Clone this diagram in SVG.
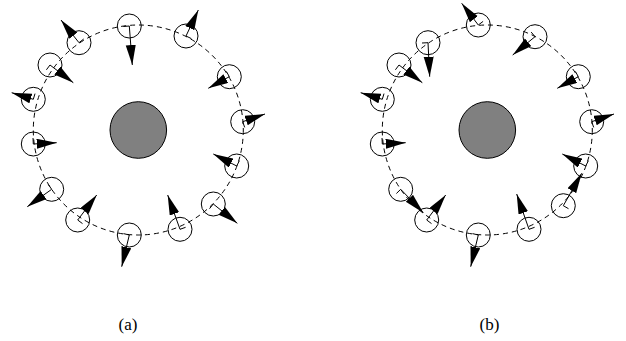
<svg xmlns="http://www.w3.org/2000/svg" width="626" height="341" viewBox="0 0 626 341">
<style>
.ring{fill:none;stroke:#000;stroke-width:1;stroke-dasharray:5,4}
.body{fill:#808080;stroke:#000;stroke-width:1}
.n circle{fill:none;stroke:#000;stroke-width:1}
.n line{stroke:#000;stroke-width:1}
.v{marker-end:url(#ah)}
.lbl{font-family:"Liberation Serif","Times New Roman",serif;font-size:17px;fill:#000;text-anchor:middle}
</style>
<defs>
<marker id="ah" markerUnits="userSpaceOnUse" markerWidth="22" markerHeight="11" refX="20" refY="5" orient="auto">
<path d="M0,0 L20,5 L0,10 z" fill="#000"/>
</marker>
</defs>
<circle class="ring" cx="138.3" cy="130" r="105"/>
<circle class="ring" cx="487.3" cy="130" r="105"/>
<g id="body-a"><circle class="body" cx="138.3" cy="130" r="28.3"/></g>
<g id="body-b"><circle class="body" cx="487.3" cy="130" r="28.3"/></g>

<g id="a1" class="n"><circle cx="129.3" cy="26" r="12"/><line x1="129.3" y1="26" x2="123.3" y2="26.5"/><line class="v" x1="129.3" y1="26" x2="132.3" y2="65"/></g>
<g id="a2" class="n"><circle cx="186" cy="36" r="12"/><line x1="186" y1="36" x2="191.4" y2="38.6"/><line class="v" x1="186" y1="36" x2="198.3" y2="10"/></g>
<g id="a3" class="n"><circle cx="229.3" cy="76.7" r="12"/><line x1="229.3" y1="76.7" x2="226.4" y2="71.4"/><line class="v" x1="229.3" y1="76.7" x2="208.3" y2="88.3"/></g>
<g id="a4" class="n"><circle cx="242.7" cy="121.7" r="12"/><line x1="242.7" y1="121.7" x2="244.7" y2="127.4"/><line class="v" x1="242.7" y1="121.7" x2="265" y2="114"/></g>
<g id="a5" class="n"><circle cx="236.7" cy="166" r="12"/><line x1="236.7" y1="166" x2="239.4" y2="160.7"/><line class="v" x1="236.7" y1="166" x2="213.3" y2="154"/></g>
<g id="a6" class="n"><circle cx="213.3" cy="204" r="12"/><line x1="213.3" y1="204" x2="209.5" y2="208.7"/><line class="v" x1="213.3" y1="204" x2="237.3" y2="223.3"/></g>
<g id="a7" class="n"><circle cx="180" cy="229.3" r="12"/><line x1="180" y1="229.3" x2="185.6" y2="227.3"/><line class="v" x1="180" y1="229.3" x2="167.7" y2="195"/></g>
<g id="a8" class="n"><circle cx="129.3" cy="235" r="12"/><line x1="129.3" y1="235" x2="123.5" y2="233.6"/><line class="v" x1="129.3" y1="235" x2="121.7" y2="266.7"/></g>
<g id="a9" class="n"><circle cx="77.7" cy="220" r="12"/><line x1="77.7" y1="220" x2="82.5" y2="223.6"/><line class="v" x1="77.7" y1="220" x2="96.7" y2="195"/></g>
<g id="a10" class="n"><circle cx="51.7" cy="189.3" r="12"/><line x1="51.7" y1="189.3" x2="48.2" y2="184.4"/><line class="v" x1="51.7" y1="189.3" x2="27.3" y2="206.7"/></g>
<g id="a11" class="n"><circle cx="33.3" cy="144" r="12"/><line x1="33.3" y1="144" x2="33" y2="138"/><line class="v" x1="33.3" y1="144" x2="56.7" y2="142.7"/></g>
<g id="a12" class="n"><circle cx="33.3" cy="99.3" r="12"/><line x1="33.3" y1="99.3" x2="35" y2="93.6"/><line class="v" x1="33.3" y1="99.3" x2="11.7" y2="92.7"/></g>
<g id="a13" class="n"><circle cx="50" cy="65" r="12"/><line x1="50" y1="65" x2="46.4" y2="69.8"/><line class="v" x1="50" y1="65" x2="73.3" y2="82.7"/></g>
<g id="a14" class="n"><circle cx="79" cy="42.7" r="12"/><line x1="79" y1="42.7" x2="83.7" y2="39"/><line class="v" x1="79" y1="42.7" x2="61" y2="20"/></g>

<g id="b1" class="n"><circle cx="478.3" cy="25" r="12"/><line x1="478.3" y1="25" x2="483.1" y2="21.4"/><line class="v" x1="478.3" y1="25" x2="461.7" y2="3.3"/></g>
<g id="b2" class="n"><circle cx="535" cy="36.7" r="12"/><line x1="535" y1="36.7" x2="531.2" y2="32.1"/><line class="v" x1="535" y1="36.7" x2="512.7" y2="55"/></g>
<g id="b3" class="n"><circle cx="578.3" cy="76.7" r="12"/><line x1="578.3" y1="76.7" x2="575.4" y2="71.4"/><line class="v" x1="578.3" y1="76.7" x2="557.3" y2="88.3"/></g>
<g id="b4" class="n"><circle cx="591.7" cy="121.7" r="12"/><line x1="591.7" y1="121.7" x2="593.7" y2="127.4"/><line class="v" x1="591.7" y1="121.7" x2="614" y2="114"/></g>
<g id="b5" class="n"><circle cx="585.7" cy="166" r="12"/><line x1="585.7" y1="166" x2="588.4" y2="160.7"/><line class="v" x1="585.7" y1="166" x2="562.3" y2="154"/></g>
<g id="b6" class="n"><circle cx="563.3" cy="205.7" r="12"/><line x1="563.3" y1="205.7" x2="568.5" y2="208.7"/><line class="v" x1="563.3" y1="205.7" x2="581.7" y2="173.3"/></g>
<g id="b7" class="n"><circle cx="529" cy="229.3" r="12"/><line x1="529" y1="229.3" x2="534.6" y2="227.3"/><line class="v" x1="529" y1="229.3" x2="516.7" y2="194"/></g>
<g id="b8" class="n"><circle cx="478.3" cy="235" r="12"/><line x1="478.3" y1="235" x2="472.5" y2="233.6"/><line class="v" x1="478.3" y1="235" x2="470.7" y2="266.7"/></g>
<g id="b9" class="n"><circle cx="426.7" cy="220" r="12"/><line x1="426.7" y1="220" x2="431.5" y2="223.6"/><line class="v" x1="426.7" y1="220" x2="445.7" y2="195"/></g>
<g id="b10" class="n"><circle cx="400.7" cy="189.3" r="12"/><line x1="400.7" y1="189.3" x2="396.4" y2="193.5"/><line class="v" x1="400.7" y1="189.3" x2="423.3" y2="212.7"/></g>
<g id="b11" class="n"><circle cx="382.3" cy="144" r="12"/><line x1="382.3" y1="144" x2="382" y2="138"/><line class="v" x1="382.3" y1="144" x2="405.7" y2="142.7"/></g>
<g id="b12" class="n"><circle cx="382.3" cy="99.3" r="12"/><line x1="382.3" y1="99.3" x2="384" y2="93.6"/><line class="v" x1="382.3" y1="99.3" x2="360.7" y2="92.7"/></g>
<g id="b13" class="n"><circle cx="399" cy="65" r="12"/><line x1="399" y1="65" x2="395.4" y2="69.8"/><line class="v" x1="399" y1="65" x2="422.3" y2="82.7"/></g>
<g id="b14" class="n"><circle cx="428" cy="42.7" r="12"/><line x1="428" y1="42.7" x2="422" y2="43"/><line class="v" x1="428" y1="42.7" x2="429.7" y2="76.7"/></g>

<text class="lbl" x="128" y="330">(a)</text>
<text class="lbl" x="489.5" y="330">(b)</text>
</svg>
